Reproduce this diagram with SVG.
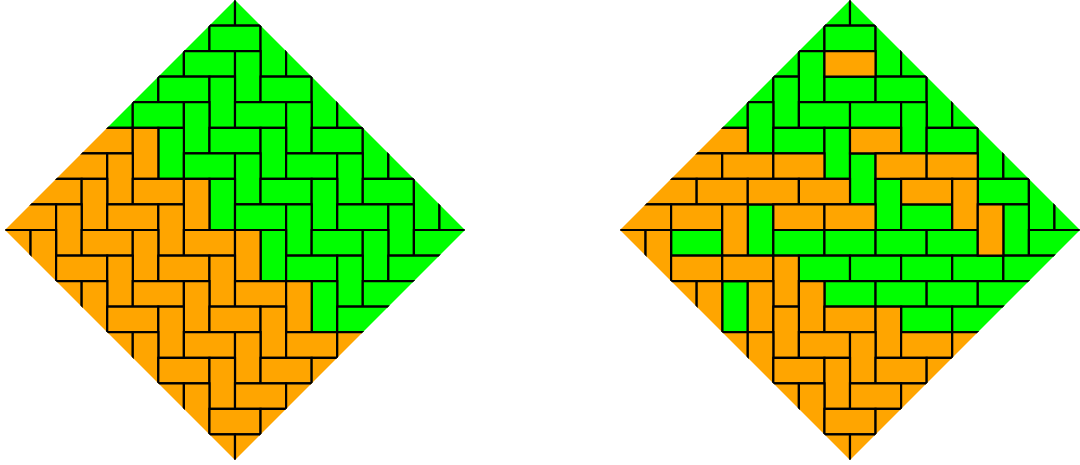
<svg xmlns="http://www.w3.org/2000/svg" xmlns:xlink="http://www.w3.org/1999/xlink" width="1080" height="465" viewBox="0 0 1080 465">
<style>.g{fill:#00ff00}.o{fill:#ffa500}</style>
<defs>
<rect id="h" width="2" height="1" stroke="#000" stroke-width="2.2" vector-effect="non-scaling-stroke"/>
<rect id="v" width="1" height="2" stroke="#000" stroke-width="2.2" vector-effect="non-scaling-stroke"/>
<clipPath id="d" clipPathUnits="userSpaceOnUse"><polygon points="0,0 9,9 0,18 -9,9"/></clipPath>
</defs>
<rect width="1080" height="465" fill="#fff"/>
<g id="left-diamond" transform="translate(235 0) scale(25.5556)">
<g clip-path="url(#d)">
<g class="g">
<use href="#v" x="-1" y="-1"/><use href="#h" x="0" y="0"/><use href="#v" x="-2" y="0"/><use href="#h" x="-1" y="1"/><use href="#v" x="1" y="1"/>
<use href="#v" x="-3" y="1"/><use href="#h" x="-2" y="2"/><use href="#v" x="0" y="2"/><use href="#h" x="2" y="2"/>
<use href="#v" x="-4" y="2"/><use href="#h" x="-3" y="3"/><use href="#v" x="-1" y="3"/><use href="#h" x="1" y="3"/><use href="#v" x="3" y="3"/>
<use href="#v" x="-5" y="3"/><use href="#h" x="-4" y="4"/><use href="#v" x="-2" y="4"/><use href="#h" x="0" y="4"/><use href="#v" x="2" y="4"/><use href="#h" x="4" y="4"/>
<use href="#v" x="-3" y="5"/><use href="#h" x="-1" y="5"/><use href="#v" x="1" y="5"/><use href="#h" x="3" y="5"/><use href="#v" x="5" y="5"/>
<use href="#h" x="-2" y="6"/><use href="#v" x="0" y="6"/><use href="#h" x="2" y="6"/><use href="#v" x="4" y="6"/><use href="#h" x="6" y="6"/>
<use href="#v" x="-1" y="7"/><use href="#h" x="1" y="7"/><use href="#v" x="3" y="7"/><use href="#h" x="5" y="7"/><use href="#v" x="7" y="7"/>
<use href="#h" x="0" y="8"/><use href="#v" x="2" y="8"/><use href="#h" x="4" y="8"/><use href="#v" x="6" y="8"/><use href="#h" x="8" y="8"/>
<use href="#v" x="1" y="9"/><use href="#h" x="3" y="9"/><use href="#v" x="5" y="9"/><use href="#h" x="7" y="9"/>
<use href="#h" x="2" y="10"/><use href="#v" x="4" y="10"/><use href="#h" x="6" y="10"/>
<use href="#v" x="3" y="11"/><use href="#h" x="5" y="11"/><use href="#h" x="4" y="12"/>
</g>
<g class="o">
<use href="#h" x="-6" y="5"/><use href="#v" x="-4" y="5"/>
<use href="#h" x="-7" y="6"/><use href="#v" x="-5" y="6"/>
<use href="#h" x="-8" y="7"/><use href="#v" x="-6" y="7"/><use href="#h" x="-4" y="7"/><use href="#v" x="-2" y="7"/>
<use href="#h" x="-9" y="8"/><use href="#v" x="-7" y="8"/><use href="#h" x="-5" y="8"/><use href="#v" x="-3" y="8"/>
<use href="#h" x="-10" y="9"/><use href="#v" x="-8" y="9"/><use href="#h" x="-6" y="9"/><use href="#v" x="-4" y="9"/><use href="#h" x="-2" y="9"/><use href="#v" x="0" y="9"/>
<use href="#h" x="-7" y="10"/><use href="#v" x="-5" y="10"/><use href="#h" x="-3" y="10"/><use href="#v" x="-1" y="10"/>
<use href="#h" x="-8" y="11"/><use href="#v" x="-6" y="11"/><use href="#h" x="-4" y="11"/><use href="#v" x="-2" y="11"/><use href="#h" x="0" y="11"/><use href="#v" x="2" y="11"/>
<use href="#h" x="-5" y="12"/><use href="#v" x="-3" y="12"/><use href="#h" x="-1" y="12"/><use href="#v" x="1" y="12"/>
<use href="#h" x="-6" y="13"/><use href="#v" x="-4" y="13"/><use href="#h" x="-2" y="13"/><use href="#v" x="0" y="13"/><use href="#h" x="2" y="13"/><use href="#v" x="4" y="13"/>
<use href="#h" x="-3" y="14"/><use href="#v" x="-1" y="14"/><use href="#h" x="1" y="14"/><use href="#v" x="3" y="14"/>
<use href="#h" x="-4" y="15"/><use href="#v" x="-2" y="15"/><use href="#h" x="0" y="15"/><use href="#v" x="2" y="15"/>
<use href="#h" x="-1" y="16"/><use href="#v" x="1" y="16"/>
<use href="#h" x="-2" y="17"/><use href="#v" x="0" y="17"/>
</g>
</g>
</g>
<g id="right-diamond" transform="translate(850 0) scale(25.5556)">
<g clip-path="url(#d)">
<g class="g">
<use href="#v" x="-1" y="-1"/><use href="#h" x="0" y="0"/><use href="#v" x="-2" y="0"/><use href="#h" x="-1" y="1"/><use href="#v" x="1" y="1"/>
<use href="#v" x="-3" y="1"/><use href="#v" x="-2" y="2"/><use href="#h" x="2" y="2"/>
<use href="#v" x="-4" y="2"/><use href="#v" x="-3" y="3"/><use href="#h" x="-1" y="3"/><use href="#h" x="1" y="3"/><use href="#v" x="3" y="3"/>
<use href="#v" x="-5" y="3"/><use href="#v" x="-4" y="4"/><use href="#h" x="-2" y="4"/><use href="#h" x="0" y="4"/><use href="#v" x="2" y="4"/><use href="#h" x="4" y="4"/>
<use href="#h" x="-3" y="5"/><use href="#v" x="-1" y="5"/><use href="#h" x="3" y="5"/><use href="#v" x="5" y="5"/>
<use href="#v" x="0" y="6"/><use href="#h" x="6" y="6"/>
<use href="#v" x="1" y="7"/><use href="#h" x="5" y="7"/><use href="#v" x="7" y="7"/>
<use href="#v" x="-4" y="8"/><use href="#h" x="2" y="8"/><use href="#v" x="6" y="8"/><use href="#h" x="8" y="8"/>
<use href="#h" x="-7" y="9"/><use href="#h" x="-3" y="9"/><use href="#h" x="-1" y="9"/><use href="#h" x="1" y="9"/><use href="#h" x="3" y="9"/><use href="#h" x="7" y="9"/>
<use href="#h" x="-2" y="10"/><use href="#h" x="0" y="10"/><use href="#h" x="2" y="10"/><use href="#h" x="4" y="10"/><use href="#h" x="6" y="10"/>
<use href="#v" x="-5" y="11"/><use href="#h" x="-1" y="11"/><use href="#h" x="1" y="11"/><use href="#h" x="3" y="11"/><use href="#h" x="5" y="11"/>
<use href="#h" x="2" y="12"/><use href="#h" x="4" y="12"/>
</g>
<g class="o">
<use href="#h" x="-1" y="2"/><use href="#h" x="-6" y="5"/><use href="#h" x="0" y="5"/>
<use href="#h" x="-7" y="6"/><use href="#h" x="-5" y="6"/><use href="#h" x="-3" y="6"/><use href="#h" x="1" y="6"/><use href="#h" x="3" y="6"/>
<use href="#h" x="-8" y="7"/><use href="#h" x="-6" y="7"/><use href="#h" x="-4" y="7"/><use href="#h" x="-2" y="7"/><use href="#h" x="2" y="7"/><use href="#v" x="4" y="7"/>
<use href="#h" x="-9" y="8"/><use href="#h" x="-7" y="8"/><use href="#v" x="-5" y="8"/><use href="#h" x="-3" y="8"/><use href="#h" x="-1" y="8"/><use href="#v" x="5" y="8"/>
<use href="#h" x="-10" y="9"/><use href="#v" x="-8" y="9"/>
<use href="#h" x="-7" y="10"/><use href="#h" x="-5" y="10"/><use href="#v" x="-3" y="10"/>
<use href="#h" x="-8" y="11"/><use href="#v" x="-6" y="11"/><use href="#v" x="-4" y="11"/><use href="#v" x="-2" y="11"/>
<use href="#v" x="-3" y="12"/><use href="#h" x="-1" y="12"/><use href="#v" x="1" y="12"/>
<use href="#h" x="-6" y="13"/><use href="#v" x="-4" y="13"/><use href="#h" x="-2" y="13"/><use href="#v" x="0" y="13"/><use href="#h" x="2" y="13"/><use href="#v" x="4" y="13"/>
<use href="#h" x="-3" y="14"/><use href="#v" x="-1" y="14"/><use href="#h" x="1" y="14"/><use href="#v" x="3" y="14"/>
<use href="#h" x="-4" y="15"/><use href="#v" x="-2" y="15"/><use href="#h" x="0" y="15"/><use href="#v" x="2" y="15"/>
<use href="#h" x="-1" y="16"/><use href="#v" x="1" y="16"/>
<use href="#h" x="-2" y="17"/><use href="#v" x="0" y="17"/>
</g>
</g>
</g>
</svg>
